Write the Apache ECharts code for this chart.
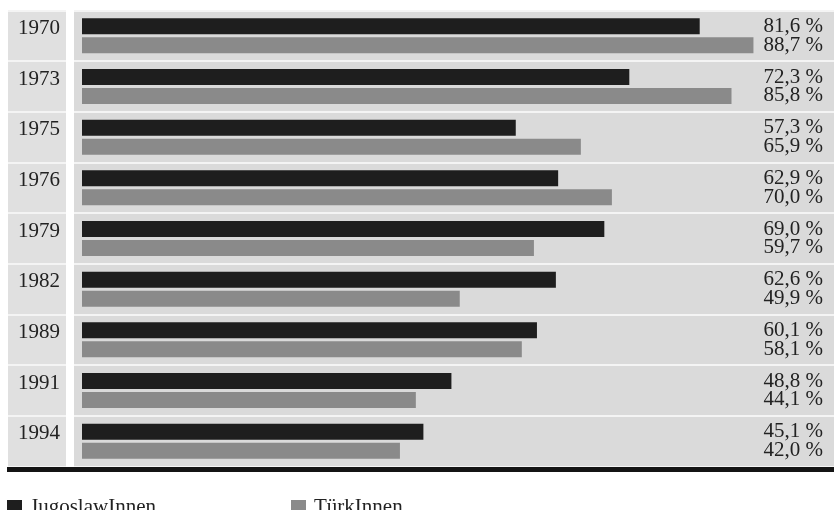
<!DOCTYPE html>
<html>
<head>
<meta charset="utf-8">
<script src="https://cdn.jsdelivr.net/npm/echarts@6/dist/echarts.min.js"></script>
<style>
html,body{margin:0;padding:0;background:#fff;}
#c{width:834px;height:510px;}
</style>
</head>
<body>
<div id="c"></div>
<script>
var years = ['1970','1973','1975','1976','1979','1982','1989','1991','1994'];
var jugoslaw = [81.6, 72.3, 57.3, 62.9, 69.0, 62.6, 60.1, 48.8, 45.1];
var tuerk = [88.7, 85.8, 65.9, 70.0, 59.7, 49.9, 58.1, 44.1, 42.0];
var seriesNames = ['JugoslawInnen', 'TürkInnen'];

function fmt(v){ return v.toFixed(1).replace('.', ',') + ' %'; }

var chart = echarts.init(document.getElementById('c'), null, {renderer:'canvas'});
var font = 'Liberation Serif';
var TOP = 10.5, H = 456;
var legendText = {fontFamily: font, fontSize: 21, color: '#222', padding: [0,0,0,3]};
var option = {
  animation: false,
  backgroundColor: '#ffffff',
  textStyle: {fontFamily: font},
  graphic: [{
    type: 'rect', shape: {x: 7, y: 467, width: 827, height: 5},
    style: {fill: '#141414'}, z: 10
  }],
  legend: [
    {data: [seriesNames[0]], left: 7, top: 497, padding: 0, icon: 'rect', itemWidth: 15, itemHeight: 15,
     textStyle: legendText},
    {data: [seriesNames[1]], left: 291, top: 497, padding: 0, icon: 'rect', itemWidth: 15, itemHeight: 15,
     textStyle: legendText}
  ],
  grid: [
    {left: 8, width: 58, top: TOP, height: H, show: true, backgroundColor: '#e0e0e0', borderWidth: 0},
    {left: 74, right: 0, top: TOP, height: H, show: true, backgroundColor: '#dadada', borderWidth: 0}
  ],
  xAxis: [
    {gridIndex: 0, type: 'value', min: 0, max: 1, show: false},
    {gridIndex: 1, type: 'value', min: -1.057, max: 99.34, show: false}
  ],
  yAxis: [
    {gridIndex: 0, type: 'category', data: years, inverse: true,
     axisLine: {show: false}, axisTick: {show: false},
     splitLine: {show: true, interval: 0, lineStyle: {color: '#f4f4f4', width: 2}},
     axisLabel: {inside: true, margin: 10, fontFamily: font, fontSize: 21, color: '#222',
       verticalAlign: 'bottom', lineHeight: 15}},
    {gridIndex: 1, type: 'category', data: years, inverse: true,
     axisLine: {show: false}, axisTick: {show: false},
     splitLine: {show: true, interval: 0, lineStyle: {color: '#f4f4f4', width: 2}},
     axisLabel: {show: false}},
    {gridIndex: 1, type: 'category', data: years, inverse: true, position: 'right',
     axisLine: {show: false}, axisTick: {show: false}, splitLine: {show: false},
     axisLabel: {inside: true, margin: 11, align: 'right', fontFamily: font, fontSize: 21, lineHeight: 18.5, color: '#222',
       formatter: function(v, i){ return fmt(jugoslaw[i]) + '\n' + fmt(tuerk[i]); }}}
  ],
  series: [
    {name: seriesNames[0], type: 'bar', xAxisIndex: 1, yAxisIndex: 1, data: jugoslaw,
     barWidth: 16, barGap: '19%', itemStyle: {color: '#1e1e1e'}},
    {name: seriesNames[1], type: 'bar', xAxisIndex: 1, yAxisIndex: 1, data: tuerk,
     barWidth: 16, barGap: '19%', itemStyle: {color: '#8a8a8a'}}
  ]
};
chart.setOption(option);
</script>
</body>
</html>
